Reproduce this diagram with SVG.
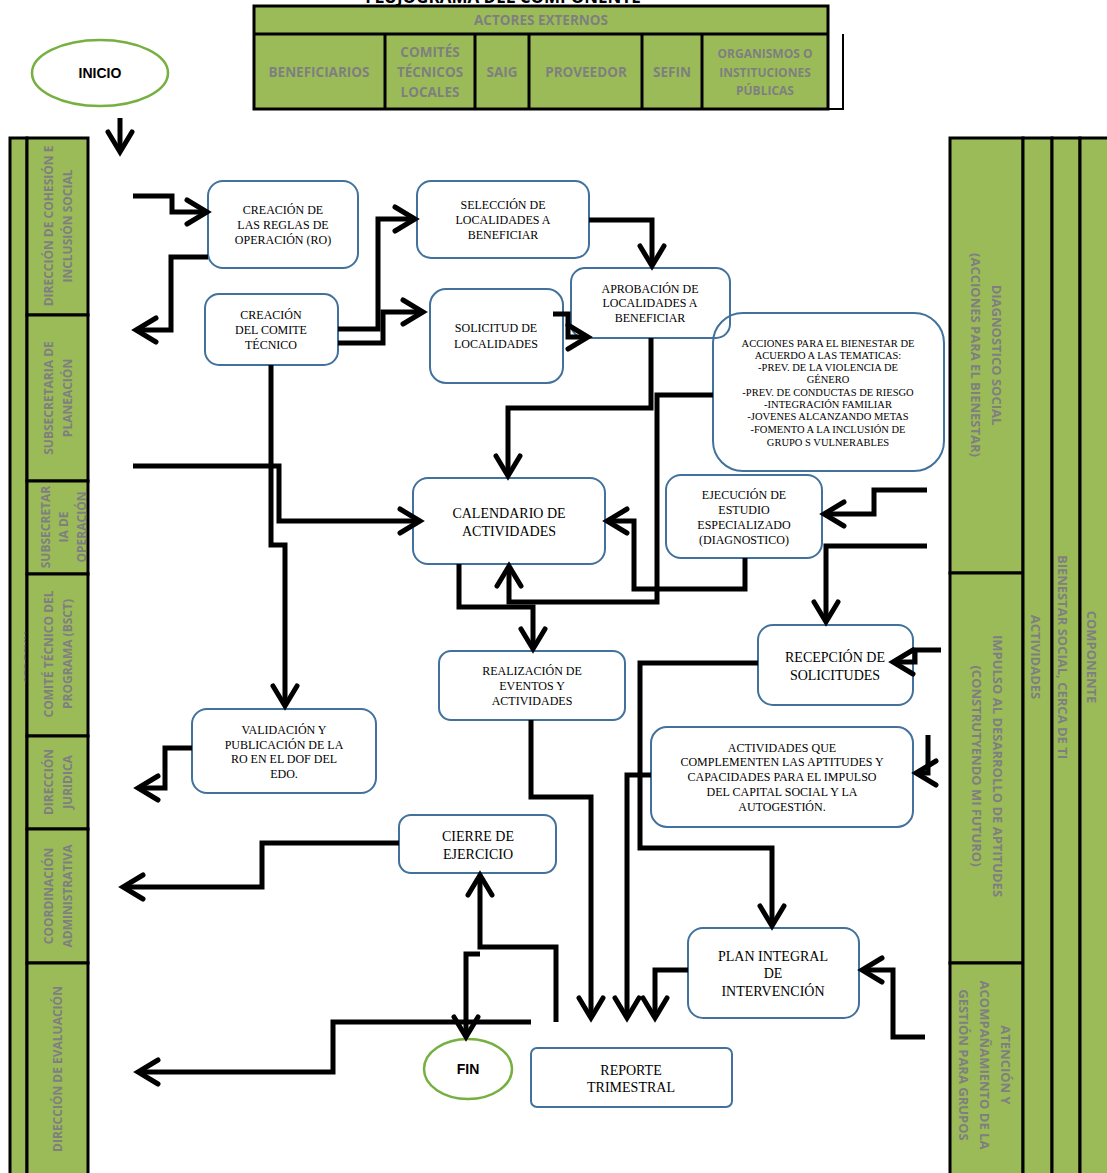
<svg xmlns="http://www.w3.org/2000/svg" width="1107" height="1173" viewBox="0 0 1107 1173">
<style>
.lane{fill:#9bbb59;stroke:#000;stroke-width:3}
.lt{font-family:"Open Sans","Noto Sans",sans-serif;font-weight:bold;font-size:12px;fill:#7f7f7f;text-anchor:middle}
.ht{font-family:"Open Sans","Noto Sans",sans-serif;font-weight:bold;font-size:13.5px;fill:#7f7f7f;text-anchor:middle}
.rt{font-family:"Open Sans","Noto Sans",sans-serif;font-weight:bold;font-size:13px;fill:#7f7f7f;text-anchor:middle}
.box{fill:#fff;stroke:#41719c;stroke-width:2}
.nt{font-family:"Liberation Serif","Times New Roman",serif;font-size:12px;fill:#000;text-anchor:middle}
.nb{font-family:"Liberation Serif","Times New Roman",serif;font-size:14px;fill:#000;text-anchor:middle}
.term{fill:#fff;stroke:#76b041;stroke-width:2.5}
.tt{font-family:"Liberation Sans",Arial,sans-serif;font-weight:bold;font-size:14px;fill:#000;text-anchor:middle}
.c{fill:none;stroke:#000;stroke-width:5;stroke-linejoin:miter}
.ca{fill:none;stroke:#000;stroke-width:5;stroke-linejoin:miter;marker-end:url(#a)}
</style>
<defs>
<marker id="a" markerUnits="userSpaceOnUse" viewBox="-30 -18 40 36" refX="-2" refY="0" markerWidth="40" markerHeight="36" orient="auto" overflow="visible">
<path d="M-20,-12 L0,0 L-20,12" fill="none" stroke="#000" stroke-width="5" stroke-linecap="round"/>
</marker>
</defs>
<rect width="1107" height="1173" fill="#fff"/>

<text x="503" y="3" font-family="Open Sans, Noto Sans, sans-serif" font-weight="bold" font-size="17" fill="#000" text-anchor="middle">FLUJOGRAMA DEL COMPONENTE</text>

<g id="header">
<rect x="254" y="6" width="574" height="103" class="lane"/>
<line x1="254" y1="34" x2="828" y2="34" stroke="#000" stroke-width="3"/>
<g stroke="#000" stroke-width="3">
<line x1="385" y1="34" x2="385" y2="109"/>
<line x1="475" y1="34" x2="475" y2="109"/>
<line x1="529" y1="34" x2="529" y2="109"/>
<line x1="642" y1="34" x2="642" y2="109"/>
<line x1="702" y1="34" x2="702" y2="109"/>
</g>
<path d="M843,34 V109 H828" fill="none" stroke="#000" stroke-width="2"/>
<text class="ht" x="541" y="25">ACTORES EXTERNOS</text>
<text class="ht" x="319" y="77">BENEFICIARIOS</text>
<text class="ht" x="430" y="57">COMITÉS<tspan x="430" y="77">TÉCNICOS</tspan><tspan x="430" y="97">LOCALES</tspan></text>
<text class="ht" x="502" y="77">SAIG</text>
<text class="ht" x="586" y="77">PROVEEDOR</text>
<text class="ht" x="672" y="77">SEFIN</text>
<text class="ht" x="765" y="58" style="font-size:12px">ORGANISMOS O<tspan x="765" y="77">INSTITUCIONES</tspan><tspan x="765" y="95">PÚBLICAS</tspan></text>
</g>

<g id="lanes-left">
<rect x="10" y="138" width="17" height="1040" class="lane"/>
<text class="lt" transform="translate(33,657) rotate(-90)">SEDESYU</text>
<rect x="27" y="138" width="61" height="177" class="lane"/>
<rect x="27" y="315" width="61" height="166" class="lane"/>
<rect x="27" y="481" width="61" height="93" class="lane"/>
<rect x="27" y="574" width="61" height="162" class="lane"/>
<rect x="27" y="736" width="61" height="93" class="lane"/>
<rect x="27" y="829" width="61" height="134" class="lane"/>
<rect x="27" y="963" width="61" height="215" class="lane"/>
<text class="lt" transform="translate(52.5,226) rotate(-90)"><tspan x="0" y="0">DIRECCIÓN DE COHESIÓN E</tspan><tspan x="0" y="19">INCLUSIÓN SOCIAL</tspan></text>
<text class="lt" transform="translate(52.5,398) rotate(-90)"><tspan x="0" y="0">SUBSECRETARIA DE</tspan><tspan x="0" y="19">PLANEACIÓN</tspan></text>
<text class="lt" transform="translate(49.5,527) rotate(-90)"><tspan x="0" y="0">SUBSECRETAR</tspan><tspan x="0" y="18">IA DE</tspan><tspan x="0" y="36">OPERACIÓN</tspan></text>
<text class="lt" transform="translate(52.5,654) rotate(-90)"><tspan x="0" y="0">COMITÉ TÉCNICO DEL</tspan><tspan x="0" y="19">PROGRAMA (BSCT)</tspan></text>
<text class="lt" transform="translate(52.5,782) rotate(-90)"><tspan x="0" y="0">DIRECCIÓN</tspan><tspan x="0" y="19">JURIDICA</tspan></text>
<text class="lt" transform="translate(52.5,896) rotate(-90)"><tspan x="0" y="0">COORDINACIÓN</tspan><tspan x="0" y="19">ADMINISTRATIVA</tspan></text>
<text class="lt" transform="translate(61.5,1069) rotate(-90)">DIRECCIÓN DE EVALUACIÓN</text>
</g>

<g id="lanes-right">
<rect x="950" y="138" width="73" height="435" class="lane"/>
<rect x="950" y="573" width="73" height="390" class="lane"/>
<rect x="950" y="963" width="73" height="215" class="lane"/>
<rect x="1023" y="138" width="29" height="1040" class="lane"/>
<rect x="1052" y="138" width="28" height="1040" class="lane"/>
<rect x="1080" y="138" width="35" height="1040" class="lane"/>
<text class="rt" transform="translate(991.5,355) rotate(90)"><tspan x="0" y="0">DIAGNOSTICO SOCIAL</tspan><tspan x="0" y="21">(ACCIONES PARA EL BIENESTAR)</tspan></text>
<text class="rt" transform="translate(992.5,766) rotate(90)"><tspan x="0" y="0">IMPULSO AL DESARROLLO DE APTITUDES</tspan><tspan x="0" y="21">(CONSTRUTYENDO MI FUTURO)</tspan></text>
<text class="rt" transform="translate(1000.5,1065) rotate(90)"><tspan x="0" y="0">ATENCIÓN Y</tspan><tspan x="0" y="21">ACOMPAÑAMIENTO DE LA</tspan><tspan x="0" y="42">GESTIÓN PARA GRUPOS</tspan></text>
<text class="rt" transform="translate(1030.5,657) rotate(90)">ACTIVIDADES</text>
<text class="rt" transform="translate(1057.5,657) rotate(90)">BIENESTAR SOCIAL, CERCA DE TI</text>
<text class="rt" transform="translate(1086.5,657) rotate(90)">COMPONENTE</text>
</g>

<g id="inicio">
<ellipse cx="100" cy="73" rx="68" ry="33" class="term"/>
<text class="tt" x="100" y="78">INICIO</text>
</g>
<g id="n-reglas">
<rect x="208" y="181" width="150" height="87" rx="15" class="box"/>
<text class="nt" x="283" y="214">CREACIÓN DE<tspan x="283" y="229">LAS REGLAS DE</tspan><tspan x="283" y="244">OPERACIÓN (RO)</tspan></text>
</g>
<g id="n-seleccion">
<rect x="417" y="181" width="172" height="77" rx="14" class="box"/>
<text class="nt" x="503" y="209">SELECCIÓN DE<tspan x="503" y="224">LOCALIDADES A</tspan><tspan x="503" y="239">BENEFICIAR</tspan></text>
</g>
<g id="n-comite">
<rect x="205" y="294" width="133" height="71" rx="14" class="box"/>
<text class="nt" x="271" y="319">CREACIÓN<tspan x="271" y="334">DEL COMITE</tspan><tspan x="271" y="349">TÉCNICO</tspan></text>
</g>
<g id="n-solicitud">
<rect x="430" y="289" width="133" height="94" rx="16" class="box"/>
<text class="nt" x="496" y="332">SOLICITUD DE<tspan x="496" y="348">LOCALIDADES</tspan></text>
</g>
<g id="n-aprobacion">
<rect x="571" y="268" width="159" height="70" rx="14" class="box"/>
<text class="nt" x="650" y="293">APROBACIÓN DE<tspan x="650" y="307">LOCALIDADES A</tspan><tspan x="650" y="322">BENEFICIAR</tspan></text>
</g>
<g id="n-acciones">
<rect x="713" y="313" width="231" height="158" rx="30" class="box" style="fill:none"/>
<text class="nt" style="font-size:10.5px" x="828" y="347">ACCIONES PARA EL BIENESTAR DE<tspan x="828" y="359">ACUERDO A LAS TEMATICAS:</tspan><tspan x="828" y="371">-PREV. DE LA VIOLENCIA DE</tspan><tspan x="828" y="383">GÉNERO</tspan><tspan x="828" y="396">-PREV. DE CONDUCTAS DE RIESGO</tspan><tspan x="828" y="408">-INTEGRACIÓN FAMILIAR</tspan><tspan x="828" y="420">-JOVENES ALCANZANDO METAS</tspan><tspan x="828" y="433">-FOMENTO A LA INCLUSIÓN DE</tspan><tspan x="828" y="446">GRUPO S VULNERABLES</tspan></text>
</g>
<g id="n-calendario">
<rect x="413" y="478" width="192" height="86" rx="15" class="box"/>
<text class="nb" x="509" y="518">CALENDARIO DE<tspan x="509" y="536">ACTIVIDADES</tspan></text>
</g>
<g id="n-ejecucion">
<rect x="666" y="475" width="156" height="83" rx="15" class="box"/>
<text class="nt" x="744" y="499">EJECUCIÓN DE<tspan x="744" y="514">ESTUDIO</tspan><tspan x="744" y="529">ESPECIALIZADO</tspan><tspan x="744" y="544">(DIAGNOSTICO)</tspan></text>
</g>
<g id="n-realizacion">
<rect x="439" y="651" width="186" height="69" rx="12" class="box"/>
<text class="nt" x="532" y="675">REALIZACIÓN DE<tspan x="532" y="690">EVENTOS Y</tspan><tspan x="532" y="705">ACTIVIDADES</tspan></text>
</g>
<g id="n-recepcion">
<rect x="758" y="625" width="155" height="80" rx="15" class="box"/>
<text class="nb" x="835" y="662">RECEPCIÓN DE<tspan x="835" y="680">SOLICITUDES</tspan></text>
</g>
<g id="n-validacion">
<rect x="192" y="709" width="184" height="84" rx="15" class="box"/>
<text class="nt" x="284" y="734">VALIDACIÓN Y<tspan x="284" y="749">PUBLICACIÓN DE LA</tspan><tspan x="284" y="763">RO EN EL  DOF DEL</tspan><tspan x="284" y="778">EDO.</tspan></text>
</g>
<g id="n-complementen">
<rect x="651" y="727" width="262" height="100" rx="16" class="box"/>
<text class="nt" x="782" y="752">ACTIVIDADES QUE<tspan x="782" y="766">COMPLEMENTEN LAS APTITUDES Y</tspan><tspan x="782" y="781">CAPACIDADES PARA EL IMPULSO</tspan><tspan x="782" y="796">DEL CAPITAL SOCIAL Y LA</tspan><tspan x="782" y="811">AUTOGESTIÓN.</tspan></text>
</g>
<g id="n-cierre">
<rect x="399" y="815" width="157" height="58" rx="12" class="box"/>
<text class="nb" x="478" y="841">CIERRE DE<tspan x="478" y="859">EJERCICIO</tspan></text>
</g>
<g id="n-plan">
<rect x="688" y="928" width="171" height="90" rx="15" class="box"/>
<text class="nb" x="773" y="961">PLAN INTEGRAL<tspan x="773" y="978">DE</tspan><tspan x="773" y="996">INTERVENCIÓN</tspan></text>
</g>
<g id="fin">
<ellipse cx="468" cy="1069" rx="44" ry="30" class="term"/>
<text class="tt" x="468" y="1074">FIN</text>
</g>
<g id="n-reporte">
<rect x="531" y="1048" width="201" height="59" rx="6" class="box"/>
<text class="nb" x="631" y="1075">REPORTE<tspan x="631" y="1092">TRIMESTRAL</tspan></text>
</g>

<g id="connectors">
<path class="ca" d="M120,118 V150"/>
<path class="ca" d="M133,196 H172 V212 H205"/>
<path class="ca" d="M208,257 H171 V330 H138"/>
<path class="ca" d="M338,329 H378 V219 H413"/>
<path class="ca" d="M338,343 H383 V312 H421"/>
<path class="ca" d="M589,220 H652 V264"/>
<path class="ca" d="M553,314 H568 V337 H586"/>
<path class="ca" d="M651,338 V408 H508 V474"/>
<path class="ca" d="M713,395 H657 V602 H509 V568"/>
<path class="ca" d="M459,564 V607 H533 V647"/>
<path class="ca" d="M745,558 V589 H634 V521 H609"/>
<path class="ca" d="M927,490 H874 V514 H826"/>
<path class="ca" d="M927,546 H826 V620"/>
<path class="ca" d="M941,650 H915 V662 H895"/>
<path class="ca" d="M271,365 V545 H285 V704"/>
<path class="ca" d="M133,466 H279 V521 H418"/>
<path class="ca" d="M758,663 H640 V848 H772 V924"/>
<path class="ca" d="M651,775 H627 V1016"/>
<path class="ca" d="M928,735 V773 H918"/>
<path class="ca" d="M925,1037 H893 V970 H864"/>
<path class="ca" d="M688,970 H655 V1016"/>
<path class="ca" d="M531,720 V797 H591 V1016"/>
<path class="ca" d="M192,748 H165 V788 H140"/>
<path class="ca" d="M399,843 H262 V887 H125"/>
<path class="ca" d="M556,1022 V947 H480 V877"/>
<path class="ca" d="M480,954 H466 V1035"/>
<path class="ca" d="M531,1022 H333 V1072 H140"/>
</g>
</svg>
